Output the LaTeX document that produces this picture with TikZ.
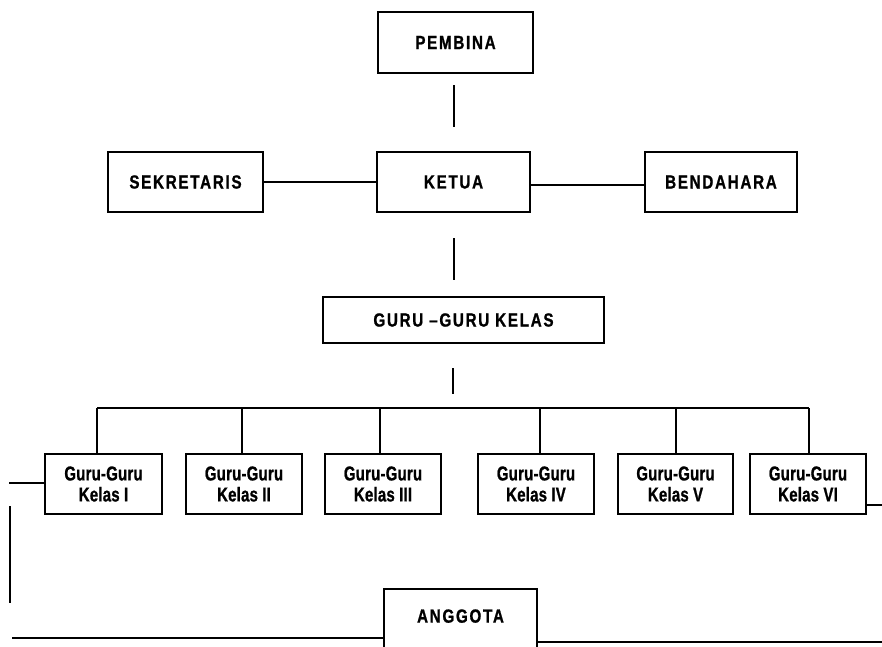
\documentclass[tikz,border=0pt]{standalone}
\usepackage{fontspec}
\setmainfont{Liberation Sans}[FakeStretch=0.8, LetterSpace=9, BoldFeatures={FakeBold=1}]
\newfontfamily\kfont{Liberation Sans}[FakeStretch=0.75, LetterSpace=1, BoldFeatures={FakeBold=1}]
\begin{document}
\begin{tikzpicture}[x=1pt,y=-1pt]
\tikzset{
  bx/.style={draw, line width=2.4pt, inner sep=0pt, align=center,
    font=\fontsize{19}{21}\selectfont\bfseries},
  kb/.style={bx, minimum width=116pt, minimum height=60pt,
    font=\kfont\fontsize{20}{21}\selectfont\bfseries},
  ln/.style={line width=2pt}
}
\useasboundingbox (0,0) rectangle (882,646);
\clip (0,0) rectangle (882,646);

\node[bx, minimum width=155pt, minimum height=61pt] (pembina) at (455.5,42.5) {PEMBINA};
\node[bx, minimum width=155pt, minimum height=60pt] (sek) at (185.5,182) {SEKRETARIS};
\node[bx, minimum width=153pt, minimum height=60pt] (ketua) at (453.5,182) {KETUA};
\node[bx, minimum width=152pt, minimum height=60pt] (bend) at (721,182) {BENDAHARA};
\node[bx, minimum width=281pt, minimum height=46pt] (guru) at (463.5,320) {GURU –GURU KELAS};

\node[kb, minimum width=117pt] (k1) at (103.5,484) {Guru-Guru\\Kelas I};
\node[kb] (k2) at (244,484) {Guru-Guru\\Kelas II};
\node[kb] (k3) at (383,484) {Guru-Guru\\Kelas III};
\node[kb] (k4) at (536,484) {Guru-Guru\\Kelas IV};
\node[kb, minimum width=115pt] (k5) at (675.5,484) {Guru-Guru\\Kelas V};
\node[kb] (k6) at (808,484) {Guru-Guru\\Kelas VI};

\node[bx, minimum width=153pt, minimum height=64pt] (ang) at (460.5,621) {\raisebox{10pt}{ANGGOTA}};

% vertical gapped connectors
\draw[ln, shorten <=11pt, shorten >=24pt] (ketua.north |- pembina.south) -- (ketua.north);
\draw[ln] (sek.east) -- (ketua.west);
\draw[ln] ([yshift=-3pt]ketua.east) -- ([yshift=-3pt]bend.west);
\draw[ln, shorten <=25pt, shorten >=16pt] (ketua.south) -- (ketua.south |- guru.north);

\coordinate (bus) at (453,408);
\draw[ln, shorten <=24pt, shorten >=14pt] (bus |- guru.south) -- (bus);

\coordinate (d1) at (97,408);
\coordinate (d2) at (242,408);
\coordinate (d3) at (380,408);
\coordinate (d4) at (540,408);
\coordinate (d5) at (676,408);
\coordinate (d6) at (809,408);
\draw[ln] (d1) -- (d6);
\foreach \i in {1,...,6}{\draw[ln] (d\i) -- (d\i |- k\i.north);}

% side lines
\coordinate (ls) at (9,483);
\draw[ln] (ls) -- (ls -| k1.west);
\coordinate (va) at (9.5,506);
\coordinate (vb) at (9.5,603);
\draw[ln] (va) -- (vb);
\coordinate (rs) at (882,505);
\draw[ln] (rs -| k6.east) -- (rs);
\coordinate (bl) at (12,638);
\draw[ln] (bl) -- (bl -| ang.west);
\coordinate (br) at (882,642);
\draw[ln] (br -| ang.east) -- (br);
\end{tikzpicture}
\end{document}
